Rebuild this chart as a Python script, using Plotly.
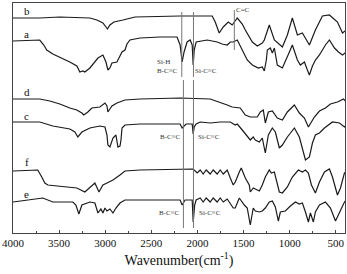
import plotly.graph_objects as go

# Wavenumbers (cm-1) and offset transmittance (arbitrary units)
wn_b = [4000,3710,3492,3166,3090,3025,2992,2976,2949,2905,2808,2677,2188,1840,1807,1764,1720,1666,1623,1568,
        1514,1481,1405,1351,1297,1275,1221,1166,1079,1025,971,916,862,786,721,645,569,482,427,385]
t_b = [215,215,216,215,213,210,206,204,208,211,213,216,217,217,211,200,206,211,208,215,
       209,203,191,187,190,193,208,193,186,198,215,198,200,188,203,217,218,211,200,203]

wn_a = [4000,3710,3666,3634,3568,3492,3384,3308,3275,3242,3221,3166,3112,3079,3025,2992,2971,2949,2927,2873,
        2851,2818,2786,2764,2732,2623,2405,2221,2188,2166,2145,2112,2079,2057,2046,2035,2014,1894,1840,1786,
        1732,1677,1644,1612,1568,1514,1460,1405,1340,1297,1275,1253,1242,1210,1188,1166,1134,1079,1036,1003,
        971,916,884,840,808,786,753,721,677,645,612,569,547,514,471,427,385]
t_a = [192,193,188,183,179,176,171,167,161,162,161,165,171,175,178,171,163,165,170,171,
       175,181,183,189,193,195,196,196,188,171,181,191,193,188,168,183,191,193,192,191,
       189,188,191,191,193,183,173,168,165,166,162,173,183,185,180,185,168,165,175,181,
       188,173,168,171,163,158,167,173,178,183,188,193,190,185,181,178,181]

wn_d = [4000,3710,3601,3492,3384,3308,3253,3232,3188,3145,3058,3003,2981,2971,2949,2927,2873,2786,2623,2188,
        1862,1829,1753,1677,1623,1568,1536,1481,1427,1351,1318,1286,1264,1231,1188,1134,1079,1025,949,895,
        840,797,732,677,612,558,482,416,385]
t_d = [134,134,132,129,125,123,120,118,121,125,126,130,127,121,124,127,130,133,134,135,
       134,133,131,128,126,125,125,118,116,116,121,123,110,121,122,115,113,121,128,120,
       115,106,116,122,125,129,131,134,131]

wn_c = [4000,3710,3568,3384,3329,3297,3253,3166,3058,3003,2981,2971,2949,2916,2884,2862,2840,2829,2818,2786,
        2623,2188,2166,2145,2123,2057,2046,2035,2014,1970,1862,1753,1644,1590,1568,1514,1460,1427,1395,1373,
        1329,1297,1264,1231,1188,1155,1112,1079,1025,949,895,862,829,786,753,721,677,623,536,460,406,385]
t_c = [111,111,107,104,101,96,101,105,107,106,98,88,86,95,98,86,87,93,105,108,
       109,109,105,107,109,109,99,106,109,111,110,111,111,108,109,103,96,93,96,93,
       91,95,80,98,105,101,85,88,96,105,96,83,73,76,90,98,100,105,111,110,106,108]

wn_f = [4000,3732,3688,3655,3623,3492,3308,3221,3145,3112,3068,3025,2981,2916,2840,2786,2623,2046,2003,1970,
        1938,1905,1862,1829,1786,1753,1720,1677,1644,1612,1590,1568,1546,1525,1481,1438,1427,1395,1329,1297,
        1264,1221,1199,1166,1134,1112,1079,1025,971,906,862,829,797,764,721,677,623,569,536,503,482,449,406,385]
t_f = [62,63,56,50,48,47,45,41,47,50,41,48,50,53,58,62,63,64,60,63,
       59,63,59,63,59,63,59,63,55,48,51,57,61,65,55,48,41,45,42,48,
       56,63,60,61,48,41,40,46,56,63,61,63,60,48,40,51,61,64,56,45,38,45,60,61]

wn_e = [4000,3818,3677,3568,3351,3318,3286,3253,3166,3112,3079,3047,3025,3003,2981,2949,2916,2884,2840,2786,
        2623,2188,2166,2134,2057,2046,2030,2014,1970,1938,1905,1862,1829,1786,1753,1720,1677,1644,1612,1590,
        1568,1546,1492,1460,1427,1395,1373,1329,1297,1264,1221,1188,1155,1123,1101,1047,992,938,895,862,
        829,797,775,743,721,677,612,558,503,460,406,385]
t_e = [31,33,35,31,31,28,19,28,31,30,20,24,20,25,22,24,20,25,30,33,
       33,33,28,33,33,11,28,33,35,31,35,31,35,31,35,31,34,30,25,25,
       31,35,28,25,8,25,22,21,22,25,31,32,26,12,21,22,27,31,29,30,
       21,11,20,11,21,28,31,25,12,20,31,33]

series_names = ["b", "a", "d", "c", "f", "e"]
series_x = [wn_b, wn_a, wn_d, wn_c, wn_f, wn_e]
series_y = [t_b, t_a, t_d, t_c, t_f, t_e]
label_y = [222, 199, 141, 117, 71, 39]

tick_vals = [4000, 3500, 3000, 2500, 2000, 1500, 1000, 500]
tick_text = ["4000", "3500", "3000", "2500", "2000", "1500", "1000", "500"]

SERIF = "Liberation Serif, Times New Roman, serif"

fig = go.Figure()
for name, xs, ys in zip(series_names, series_x, series_y):
    fig.add_trace(go.Scatter(x=xs, y=ys, mode="lines", name=name,
                             line=dict(color="#1a1a1a", width=1.2), showlegend=False))

for name, ly in zip(series_names, label_y):
    fig.add_annotation(x=3850, y=ly, text=name, showarrow=False,
                       font=dict(family=SERIF, size=11, color="#111"))

# band marker lines
vlines = [(2170, 221, 156), (2043, 221, 156), (1600, 223, 183), (2152, 153, 5), (2043, 153, 5)]
for xv, y0, y1 in vlines:
    fig.add_shape(type="line", x0=xv, x1=xv, y0=y0, y1=y1, xref="x", yref="y",
                  line=dict(color="#777", width=1))

band_labels = [("Si-H", 2373, 171), ("B-C≡C", 2322, 162), ("Si-C≡C", 1905, 162), ("C=C", 1503, 223),
               ("B-C≡C", 2297, 96), ("Si-C≡C", 1873, 96), ("B-C≡C", 2302, 20), ("Si-C≡C", 1862, 20)]
for txt, xv, yv in band_labels:
    fig.add_annotation(x=xv, y=yv, text=txt, showarrow=False,
                       font=dict(family=SERIF, size=7, color="#333"))

fig.update_layout(
    width=347, height=274,
    margin=dict(l=13, r=2, t=3, b=41),
    plot_bgcolor="white", paper_bgcolor="white",
    font=dict(family=SERIF, color="#111"),
)
fig.update_xaxes(range=[4000, 400], showgrid=False, zeroline=False,
                 showline=True, linecolor="#444", linewidth=1, mirror=True,
                 ticks="inside", ticklen=3, tickcolor="#444",
                 tickvals=tick_vals, ticktext=tick_text,
                 tickfont=dict(family=SERIF, size=11, color="#111"),
                 minor=dict(ticks="inside", ticklen=2, dtick=250, tickcolor="#444"),
                 title=dict(text="Wavenumber(cm<sup>-1</sup>)", font=dict(family=SERIF, size=14, color="#111"),
                            standoff=6))
fig.update_yaxes(range=[0, 230], showgrid=False, zeroline=False, showticklabels=False,
                 showline=True, linecolor="#444", linewidth=1, mirror=True, ticks="")

fig.write_html("out.html", config={"displayModeBar": False},
               post_script="document.body.style.margin='0px';")
